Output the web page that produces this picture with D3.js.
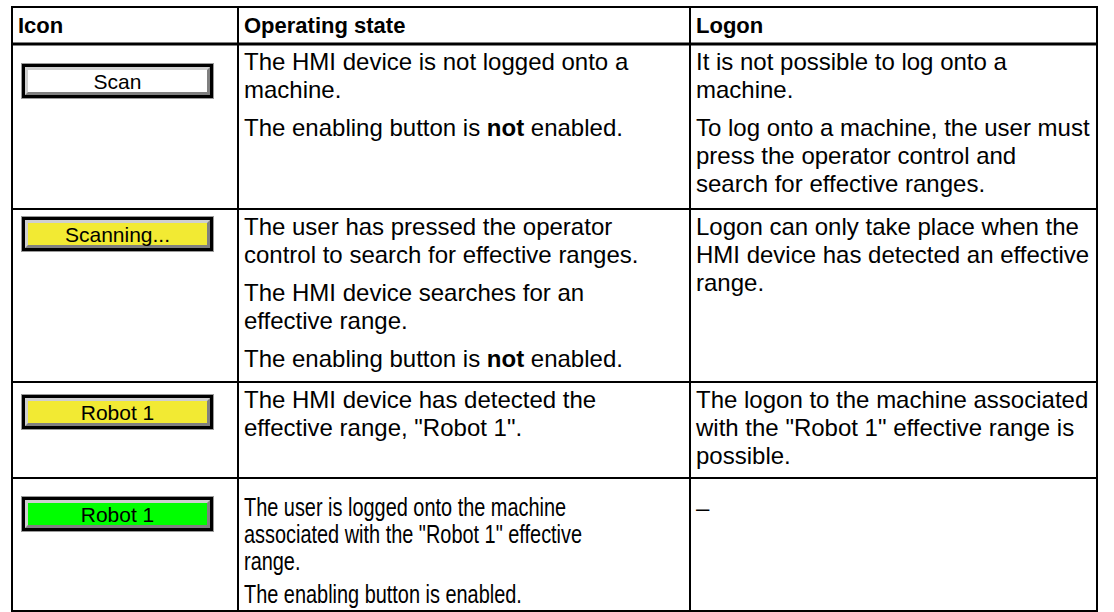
<!DOCTYPE html>
<html><head><meta charset="utf-8">
<script src="https://cdn.jsdelivr.net/npm/d3@7/dist/d3.min.js"></script>
<style>html,body{margin:0;padding:0;background:#fff;}svg{display:block;}</style>
</head><body>
<svg id="chart" width="1114" height="612"></svg>
<script>
// ---- data ----
const columns = ["Icon", "Operating state", "Logon"];
const buttonLabels = ["Scan", "Scanning...", "Robot 1", "Robot 1"];
const buttonStates = ["idle", "scanning", "detected", "loggedOn"];
// paragraphs -> lines ; **x** = bold
const operatingState = [
  [["The HMI device is not logged onto a", "machine."],
   ["The enabling button is **not** enabled."]],
  [["The user has pressed the operator", "control to search for effective ranges."],
   ["The HMI device searches for an", "effective range."],
   ["The enabling button is **not** enabled."]],
  [["The HMI device has detected the", "effective range, \"Robot 1\"."]],
  [["The user is logged onto the machine", "associated with the \"Robot 1\" effective", "range."],
   ["The enabling button is enabled."]]
];
const logon = [
  [["It is not possible to log onto a", "machine."],
   ["To log onto a machine, the user must", "press the operator control and", "search for effective ranges."]],
  [["Logon can only take place when the", "HMI device has detected an effective", "range."]],
  [["The logon to the machine associated", "with the \"Robot 1\" effective range is", "possible."]],
  [["\u2013"]]
];

// ---- layout ----
const colEdges = [12, 238, 690, 1097];
const rowEdges = [7, 44, 209, 382, 478, 611];
const btnTop = [20, 8, 13, 19];
const faceColor = {idle: "#ffffff", scanning: "#f2ea33", detected: "#f2ea33", loggedOn: "#00ff00"};
const FONT = "'Liberation Sans', Arial, sans-serif";

const svg = d3.select("#chart");
const xCol = d3.scaleOrdinal().domain(d3.range(4)).range(colEdges);
const yRow = d3.scaleOrdinal().domain(d3.range(6)).range(rowEdges);

// header text
svg.append("g").selectAll("text").data(columns).join("text")
  .attr("x", (d, i) => xCol(i) + 6)
  .attr("y", yRow(0) + 26)
  .attr("font-family", FONT).attr("font-size", 22).attr("font-weight", "bold")
  .attr("fill", "#000").text(d => d);

function drawCell(g, paras, x, top, opts) {
  const o = Object.assign({first: 26, lh: 28, gap: 10, sx: 1, sy: 1}, opts || {});
  let y = top + o.first;
  paras.forEach((lines, pi) => {
    if (pi > 0) y += o.gap;
    lines.forEach(line => {
      const t = g.append("text").attr("x", 0).attr("y", 0)
        .attr("transform", `translate(${x},${y}) scale(${o.sx},${o.sy})`)
        .attr("font-family", FONT).attr("font-size", 24).attr("fill", "#000");
      line.split(/(\*\*[^*]+\*\*)/).filter(s => s.length).forEach(seg => {
        const b = seg.startsWith("**");
        t.append("tspan").attr("font-weight", b ? "bold" : null).text(b ? seg.slice(2, -2) : seg);
      });
      y += o.lh;
    });
  });
}

const body = svg.append("g");
const lastRowOpts = {first: 38, lh: 27, gap: 6, sx: 0.83, sy: 1.1};
buttonLabels.forEach((lab, r) => {
  const top = yRow(r + 1);
  drawCell(body, operatingState[r], xCol(1) + 6, top, r === 3 ? lastRowOpts : null);
  drawCell(body, logon[r], xCol(2) + 6, top, r === 3 ? {first: 38} : null);
});

// buttons
const bx = 22, bw = 191, bh = 34;
const btn = svg.append("g").selectAll("g").data(buttonLabels).join("g")
  .attr("transform", (d, i) => `translate(${bx},${yRow(i + 1) + btnTop[i]})`);
btn.append("rect").attr("x", -1).attr("y", -1).attr("width", bw + 2).attr("height", bh + 2).attr("fill", "#9a9a9a");
btn.append("rect").attr("x", 0).attr("y", 0).attr("width", bw).attr("height", bh).attr("fill", "#000");
btn.append("rect").attr("x", 3).attr("y", 3).attr("width", bw - 6).attr("height", bh - 6).attr("fill", "#808080");
btn.append("path").attr("d", `M3,3 H${bw - 3} L${bw - 6},6 H6 V${bh - 6} L3,${bh - 3} Z`).attr("fill", "#cfcfcf");
btn.append("rect").attr("x", 6).attr("y", 6).attr("width", bw - 12).attr("height", bh - 12)
  .attr("fill", (d, i) => faceColor[buttonStates[i]]);
btn.append("text").attr("x", bw / 2).attr("y", bh / 2 + 7.5).attr("text-anchor", "middle")
  .attr("font-family", FONT).attr("font-size", 21).attr("fill", "#000").text(d => d);

// grid lines
const grid = svg.append("g").attr("stroke", "#000").attr("fill", "none");
rowEdges.forEach((y, i) => {
  grid.append("line").attr("x1", colEdges[0] - 1).attr("x2", colEdges[3] + 1)
    .attr("y1", y).attr("y2", y).attr("stroke-width", i === 1 ? 3 : 2);
});
colEdges.forEach(x => {
  grid.append("line").attr("x1", x).attr("x2", x)
    .attr("y1", rowEdges[0]).attr("y2", rowEdges[5]).attr("stroke-width", 2);
});
</script>
</body></html>
